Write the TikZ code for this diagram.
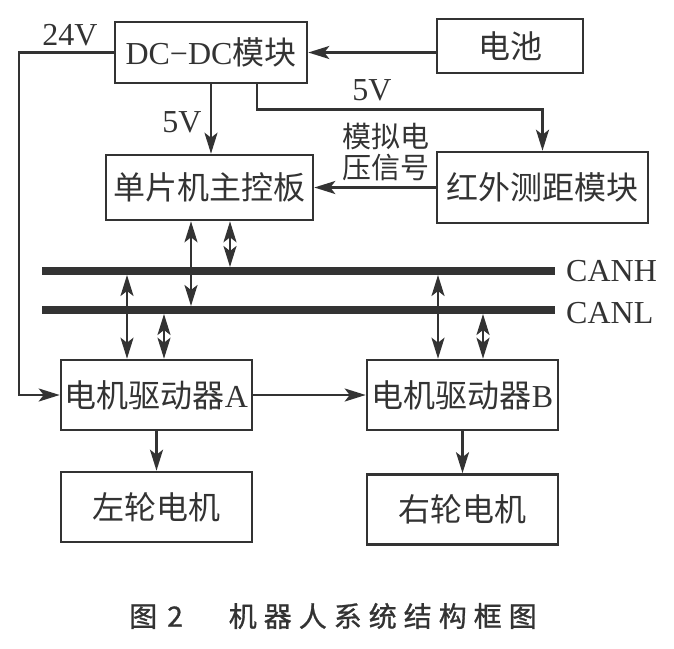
\documentclass[tikz,border=0pt]{standalone}
\usepackage{fontspec}
\setmainfont{Liberation Serif}
\newfontfamily\cjk{Noto Sans CJK SC}
\newfontfamily\cjkcap[LetterSpace=25,FakeBold=1]{Noto Sans CJK SC}
\usetikzlibrary{arrows.meta}
\definecolor{ink}{HTML}{333333}
\tikzset{
  blk/.style={draw=ink, line width=2.6pt, inner sep=0pt, text=ink,
    font=\fontsize{32}{36}\selectfont},
  tip/.tip={Stealth[length=21pt, width=13pt, inset=5pt]},
  arr/.style={draw=ink, line width=2.4pt, -tip},
  biarr/.style={draw=ink, line width=2.4pt, tip-tip},
  bus/.style={draw=ink, line width=8pt},
  lbl/.style={text=ink, inner sep=0pt, font=\fontsize{32}{36}\selectfont},
}
\begin{document}
\begin{tikzpicture}[x=1pt, y=-1pt]
\useasboundingbox (0,0) rectangle (674,648);

% boxes
\node[blk, minimum width=192pt, minimum height=61pt] (dcdc) at (211,52.5) {DC−DC{\cjk 模块}};
\node[blk, minimum width=146pt, minimum height=54pt] (bat) at (510,46) {\cjk 电池};
\node[blk, minimum width=207pt, minimum height=65pt] (mcu) at (209.5,187.5) {\cjk 单片机主控板};
\node[blk, minimum width=211pt, minimum height=71pt] (ir) at (542.5,187.5) {\cjk 红外测距模块};
\node[blk, minimum width=191pt, minimum height=70pt] (drvA) at (156.5,395) {{\cjk 电机驱动器}A};
\node[blk, minimum width=191pt, minimum height=70pt] (drvB) at (462.5,395) {{\cjk 电机驱动器}B};
\node[blk, minimum width=191pt, minimum height=70pt] (motL) at (156.5,507) {\cjk 左轮电机};
\node[blk, minimum width=191pt, minimum height=70pt] (motR) at (462.5,509.5) {\cjk 右轮电机};

% CAN bus
\coordinate (canhW) at (42,271);
\coordinate (canhE) at (555,271);
\coordinate (canlW) at (42,310);
\coordinate (canlE) at (555,310);
\draw[bus] (canhW) -- (canhE);
\draw[bus] (canlW) -- (canlE);
\node[lbl, anchor=west] (lcanh) at (566,271) {CANH};
\node[lbl, anchor=west] (lcanl) at (566,313) {CANL};

% power
\coordinate (c24) at (19,0);
\draw[arr] (bat.west |- dcdc.east) -- (dcdc.east);
\draw[arr] (dcdc.south) -- (dcdc.south |- mcu.north);
\draw[arr] ([xshift=46pt]dcdc.south) -- ++(0,25) -| (ir.north);
\draw[arr] (dcdc.west) -| (c24 |- drvA.west) -- (drvA.west);
\node[lbl] (l24) at (70,35) {24V};
\node[lbl] (l5a) at (182,122) {5V};
\node[lbl] (l5b) at (372,90) {5V};

% signals
\draw[arr] (ir.west) -- (mcu.east);
\node[lbl, align=center, font=\cjk\fontsize{29}{31}\selectfont] (lsig) at (386,152) {模拟电\\压信号};
\draw[arr] (drvA.east) -- (drvB.west);
\draw[arr] (drvA.south) -- (motL.north);
\draw[arr] (drvB.south) -- (motR.north);

% bus links
\draw[biarr, shorten >=4pt] ([xshift=-18.5pt]mcu.south) -- ([xshift=-18.5pt]mcu.south |- canlW);
\draw[biarr, shorten >=4pt] ([xshift=20.5pt]mcu.south) -- ([xshift=20.5pt]mcu.south |- canhW);
\draw[biarr, shorten <=4pt] ([xshift=-29.5pt]drvA.north |- canhW) -- ([xshift=-29.5pt]drvA.north);
\draw[biarr, shorten <=4pt] ([xshift=7.5pt]drvA.north |- canlW) -- ([xshift=7.5pt]drvA.north);
\draw[biarr, shorten <=4pt] ([xshift=-24.5pt]drvB.north |- canhW) -- ([xshift=-24.5pt]drvB.north);
\draw[biarr, shorten <=4pt] ([xshift=20.5pt]drvB.north |- canlW) -- ([xshift=20.5pt]drvB.north);

% caption
\node[text=ink, inner sep=0pt, font=\cjkcap\fontsize{28}{30}\selectfont] (cap) at (333,616)
  {图\hspace{10pt}2\hspace{46pt}机器人系统结构框图};
\end{tikzpicture}
\end{document}
